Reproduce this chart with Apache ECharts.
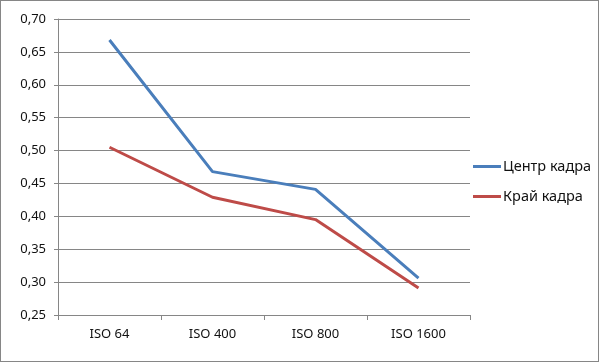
<!DOCTYPE html>
<html><head><meta charset="utf-8">
<script src="https://cdn.jsdelivr.net/npm/echarts@6/dist/echarts.min.js"></script>
<style>
html,body{margin:0;padding:0;background:#fff;}
#frame{position:absolute;left:0;top:0;width:597px;height:360px;border:1px solid #868686;}
#c{position:absolute;left:0;top:0;width:601px;height:363px;}
</style></head>
<body>
<div id="frame"></div>
<div id="c"></div>
<script>
const categories = ['ISO 64', 'ISO 400', 'ISO 800', 'ISO 1600'];
const centerName = 'Центр кадра';
const edgeName = 'Край кадра';
const centerValues = [0.668, 0.468, 0.441, 0.306];
const edgeValues = [0.505, 0.429, 0.395, 0.291];

const chart = echarts.init(document.getElementById('c'), null, {renderer: 'canvas'});
const font = 'Noto Sans';
chart.setOption({
  animation: false,
  backgroundColor: 'transparent',
  grid: {left: 58, right: 131, top: 19, bottom: 48, containLabel: false},
  legend: {
    orient: 'vertical', left: 473, top: 158, itemGap: 13, padding: 0,
    itemWidth: 28, itemHeight: 3, icon: 'rect',
    textStyle: {fontFamily: font, fontSize: 14.5, color: '#111', lineHeight: 17, padding: [0,0,0,-3]},
    data: [centerName, edgeName]
  },
  xAxis: {
    type: 'category', data: categories, boundaryGap: true,
    axisLine: {lineStyle: {color: '#868686', width: 1}},
    axisTick: {show: true, length: 5, alignWithLabel: false, lineStyle: {color: '#868686'}},
    axisLabel: {fontFamily: font, fontSize: 13, color: '#111', margin: 13}
  },
  yAxis: {
    type: 'value', min: 0.25, max: 0.70, interval: 0.05,
    axisLine: {show: true, lineStyle: {color: '#868686', width: 1}},
    axisTick: {show: true, length: 4, lineStyle: {color: '#868686'}},
    splitLine: {lineStyle: {color: '#868686', width: 1}},
    axisLabel: {fontFamily: font, fontSize: 13, color: '#111', margin: 12,
      formatter: v => v.toFixed(2).replace('.', ',')}
  },
  series: [
    {name: centerName, type: 'line', data: centerValues, showSymbol: false, symbol: 'none',
     lineStyle: {color: '#4a7ebb', width: 3}, itemStyle: {color: '#4a7ebb'}},
    {name: edgeName, type: 'line', data: edgeValues, showSymbol: false, symbol: 'none',
     lineStyle: {color: '#be4b48', width: 3}, itemStyle: {color: '#be4b48'}}
  ]
});
</script>
</body></html>
